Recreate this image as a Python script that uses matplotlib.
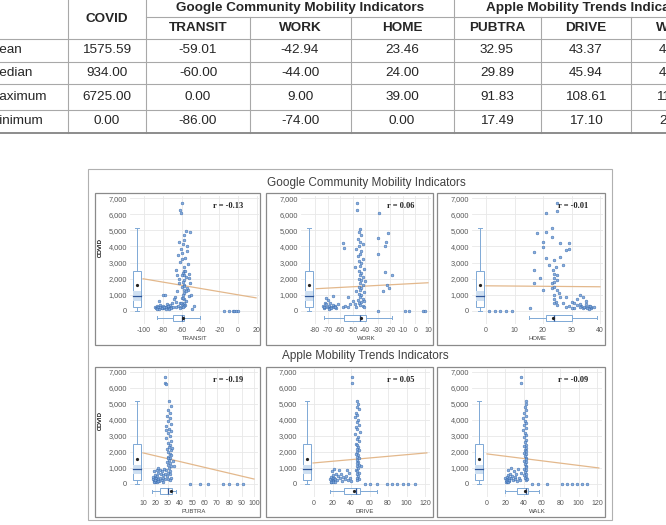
import matplotlib
matplotlib.use("Agg")
import matplotlib.pyplot as plt
from matplotlib.patches import Rectangle
from matplotlib.ticker import StrMethodFormatter

plt.rcParams['axes.unicode_minus'] = False

W, H = 666, 525

# ---------------- table data ----------------
row_names = ['Mean', 'Median', 'Maximum', 'Minimum']
col_names = ['COVID', 'TRANSIT', 'WORK', 'HOME', 'PUBTRA', 'DRIVE', 'WALK']
covid_stats = [1575.59, 934.00, 6725.00, 0.00]
transit_stats = [-59.01, -60.00, 0.00, -86.00]
work_stats = [-42.94, -44.00, 9.00, -74.00]
home_stats = [23.46, 24.00, 39.00, 0.00]
pubtra_stats = [32.95, 29.89, 91.83, 17.49]
drive_stats = [43.37, 45.94, 108.61, 17.10]
walk_stats = [41.93, 42.51, 117.30, 20.46]
group_names = ['Google Community Mobility Indicators', 'Apple Mobility Trends Indicators']

# ---------------- scatter data ----------------
transit_x = [-60, -62, -61, -55, -58, -57, -63, -59, -54, -61, -60, -64, -56, -60, -62, -53, -58, -66,
             -57, -59, -52, -58, -55, -63, -57, -59, -51, -58, -60, -54, -58, -65, -57, -59, -52, -60,
             -58, -55, -62, -57, -60, -56, -58, -61, -59, -62, -64, -53, -65, -54, -56, -60, -52, -63,
             -57, -55, -59, -61, -50, -66,
             -88, -87, -86, -85, -84, -83, -82, -81, -80, -79, -78, -77, -76, -75, -74, -73, -72, -71,
             -70, -84, -80, -78, -67, -66, -86, -83, -81, -79, -77, -75, -73, -71, -69, -68,
             -51, -49, -47, -15, -10, -6, -4, -2, 0]
transit_y = [6700, 6250, 6100, 4950, 4700, 4400, 4250, 4150, 4000, 3850, 3600, 3450, 3300, 3200, 3050,
             2900, 2700, 2550, 2450, 2350, 2300, 2200, 2100, 2000, 1900, 1800, 1700, 1600, 1500, 1400,
             1300, 1200, 1100, 1000, 900, 800, 700, 600, 500, 450, 400, 350, 300, 250, 200, 150, 300,
             1300, 2200, 3700, 2450, 2250, 2050, 1750, 1550, 1250, 800, 450, 950, 550,
             250, 150, 300, 200, 120, 350, 220, 180, 300, 150, 250, 200, 400, 180, 280, 150, 350, 250,
             450, 600, 950, 980, 870, 200, 100, 200, 150, 250, 120, 300, 100, 180, 220, 700,
             4900, 80, 300, 0, 0, 0, 0, 0, 0]

work_x = [-46.5, -46.5, -44, -45, -43, -46, -44, -42, -45, -47, -43, -44, -46, -42, -45, -43, -44, -41,
          -45, -43, -44, -42, -45, -43, -44, -42, -45, -43, -44, -41, -45, -43, -44, -42, -46, -43, -45,
          -44, -42, -47, -41, -48, -40, -47, -41, -48,
          -74, -73, -72, -72, -71, -70, -70, -69, -68, -68, -67, -66, -65, -64, -63, -62, -71, -66, -58,
          -56, -54, -54, -52, -50, -73, -69, -67, -64,
          -58, -57, -30, -23.5, -22, -29, -30, -24.5, -24, -19, -23, -26, -21, -30, -8, -5, 6, 8]
work_y = [6700, 6250, 5100, 4900, 4700, 4450, 4300, 4150, 4000, 3850, 3700, 3550, 3400, 3250, 3100,
          2950, 2800, 2600, 2450, 2350, 2250, 2100, 2000, 1900, 1750, 1600, 1500, 1400, 1300, 1150, 1050,
          950, 850, 750, 650, 550, 450, 350, 300, 250, 200, 2700, 1850, 1200, 600, 400,
          300, 150, 500, 250, 400, 200, 650, 300, 150, 450, 250, 350, 200, 300, 150, 400, 800, 900, 250,
          300, 200, 870, 400, 600, 200, 100, 150, 250,
          4200, 3900, 4500, 4300, 4850, 6100, 3500, 4000, 2400, 2200, 1600, 1200, 1400, 0, 0, 0, 0, 0]

home_x = [21, 25, 25, 18, 21, 23, 23, 26, 29, 20, 20, 17, 28, 29, 21, 24, 26, 27, 17, 19, 17, 20, 23.5,
          24, 23, 25, 24, 24.7, 24, 25, 26, 28, 30, 31, 33, 34, 32, 33.5, 35, 36, 37, 31, 27, 28, 15.5,
          23, 24, 25, 24, 22, 33, 34, 35, 36, 37, 38, 35, 32, 29, 30, 24.5, 25, 24, 25.5, 24,
          34.5, 35.5, 36.5, 33, 1, 3, 5, 7, 9]
home_y = [6060, 6690, 6210, 4860, 4920, 5130, 4610, 4200, 4200, 4300, 3990, 3680, 3780, 3840, 3260, 3160,
          3320, 2850, 2530, 2020, 1710, 1290, 2530, 2020, 1710, 1910, 980, 560, 460, 350, 870, 870, 560,
          460, 1000, 870, 350, 300, 200, 300, 150, 150, 460, 250, 150, 1400, 1500, 1300, 2300, 2850, 250,
          180, 400, 120, 250, 200, 600, 700, 300, 150, 2700, 2200, 1800, 1100, 700,
          250, 150, 300, 400, 0, 0, 0, 0, 0]

pubtra_x = [27.5, 27.5, 29, 31, 33, 30, 32, 29.5, 31.5, 30, 33, 29, 31, 32.5, 30, 31.5, 29, 33, 30.5, 32,
            31, 29.5, 32.5, 30, 31.5, 33, 30, 32, 31, 29.5, 32, 30.5, 33, 31, 29, 32, 30, 31.5, 29.5, 33,
            30, 32, 35, 28.5, 33.5, 30, 28, 34,
            18, 18.5, 19, 19.5, 20, 20, 20.5, 21, 21.5, 22, 22, 23, 23.5, 24, 24.5, 25, 25.5, 26, 26.5,
            27, 19, 21, 22.5, 26, 27.5, 19, 20, 21, 22,
            48, 56, 63, 75, 80, 86, 91]
pubtra_y = [6700, 6280, 6220, 5150, 4850, 4600, 4400, 4250, 4100, 3900, 3750, 3600, 3450, 3300, 3150,
            3000, 2850, 2700, 2550, 2400, 2300, 2200, 2100, 2000, 1900, 1800, 1700, 1600, 1500, 1400,
            1300, 1200, 1100, 1000, 900, 800, 700, 600, 500, 400, 300, 250, 1100, 3350, 2250, 1650, 600, 1450,
            300, 450, 200, 550, 350, 150, 400, 250, 500, 300, 700, 200, 900, 400, 600, 250, 800, 350,
            550, 950, 800, 900, 1000, 150, 300, 100, 250, 150, 200,
            0, 0, 0, 0, 0, 0, 0]

drive_x = [41, 41, 47, 48, 46, 49, 45, 47, 44, 48, 46, 49, 45, 47, 50, 44, 48, 46, 49, 45, 47, 48, 46,
           49, 47, 45, 48, 46, 49, 47, 48, 46, 49, 47, 48, 45, 47, 49, 46, 48, 47, 49, 46, 51,
           17, 18, 18.5, 19, 20, 20, 21, 22, 23, 24, 25, 26, 27, 28, 29, 30, 31, 19, 22, 33, 35, 37,
           38, 39, 36, 40, 18, 20, 21, 23,
           55, 61, 68, 79, 84, 90, 96, 102, 109]
drive_y = [6700, 6300, 5200, 5000, 4800, 4650, 4450, 4300, 4150, 4000, 3850, 3700, 3550, 3400, 3250,
           3100, 2950, 2800, 2650, 2500, 2400, 2300, 2200, 2100, 2000, 1900, 1800, 1700, 1600, 1500,
           1400, 1300, 1200, 1100, 1000, 900, 800, 700, 600, 500, 400, 300, 250, 1100,
           300, 150, 450, 250, 550, 350, 200, 400, 300, 650, 250, 500, 900, 350, 600, 200, 450, 800,
           950, 300, 500, 250, 700, 400, 900, 200, 100, 200, 100, 150,
           0, 0, 0, 0, 0, 0, 0, 0, 0]

walk_x = [37, 37, 43, 42, 41, 43, 40, 42, 39, 41, 43, 40, 42, 39, 41, 43, 40, 42, 41, 43, 40, 42, 41, 43,
          40, 42, 41, 43, 42, 40, 42, 41, 43, 42, 40, 42, 41, 43, 40, 42, 41, 43, 44,
          20, 21, 21.5, 22, 22.5, 23, 24, 24.5, 25, 26, 27, 28, 29, 30, 31, 32, 33, 34, 23, 26, 35, 36, 37,
          21, 22, 23, 24,
          49, 56, 65, 82, 87, 93, 98, 104, 109]
walk_y = [6700, 6300, 5200, 5000, 4800, 4600, 4400, 4250, 4100, 3950, 3800, 3650, 3500, 3350, 3200,
          3050, 2900, 2750, 2600, 2450, 2350, 2250, 2150, 2050, 1950, 1850, 1750, 1650, 1550, 1450, 1350,
          1250, 1150, 1050, 950, 850, 750, 650, 550, 450, 350, 250, 300,
          350, 250, 450, 150, 550, 300, 400, 200, 650, 350, 500, 250, 800, 450, 300, 600, 200, 950, 900,
          1000, 400, 250, 700, 150, 200, 100, 250,
          0, 0, 0, 0, 0, 0, 0, 0, 0]

# box-plot summaries (whisker low, q1, median, q3, whisker high, mean)
covid_box = [0, 250, 934, 2490, 5150, 1576]
covid_band = [600, 1200]
transit_box = [-86, -69, -60, -58, -41, -59]
work_box = [-73, -57, -44, -39, -19, -43]
home_box = [15, 21, 24, 30, 39, 23.5]
pubtra_box = [17.5, 23.8, 29.9, 33.6, 37, 33]
drive_box = [17.1, 32, 45.9, 50, 68, 43.4]
walk_box = [20, 33, 42, 45, 57, 41]

# trend line end points (x, y) at the left and right end
transit_trend = [(-101, 1990), (19, 800)]
work_trend = [(-79, 1370), (10, 1740)]
home_trend = [(0, 1550), (40, 1490)]
pubtra_trend = [(10, 1940), (100, 310)]
drive_trend = [(-1, 1310), (122, 1940)]
walk_trend = [(0, 1875), (122, 1000)]

r_values = ['-0.13', '0.06', '-0.01', '-0.19', '0.05', '-0.09']

covid_ticks = [0, 1000, 2000, 3000, 4000, 5000, 6000, 7000]

# ---------------- layout (pixels) ----------------
panels = [
    dict(name='TRANSIT', x=transit_x, y=transit_y, box=transit_box, trend=transit_trend,
         ticks=[-100, -80, -60, -40, -20, 0, 20], tpx=(144, 257), axpx=(130, 259), frame=(95, 260), vbox_px=137, row=0),
    dict(name='WORK', x=work_x, y=work_y, box=work_box, trend=work_trend,
         ticks=list(range(-80, 11, 10)), tpx=(315, 428), axpx=(301, 431), frame=(266, 433), vbox_px=309, row=0),
    dict(name='HOME', x=home_x, y=home_y, box=home_box, trend=home_trend,
         ticks=[0, 10, 20, 30, 40], tpx=(486, 600), axpx=(472, 603), frame=(437, 605), vbox_px=480, row=0),
    dict(name='PUBTRA', x=pubtra_x, y=pubtra_y, box=pubtra_box, trend=pubtra_trend,
         ticks=list(range(10, 101, 10)), tpx=(143, 254), axpx=(130, 258), frame=(95, 260), vbox_px=137, row=1),
    dict(name='DRIVE', x=drive_x, y=drive_y, box=drive_box, trend=drive_trend,
         ticks=[0, 20, 40, 60, 80, 100, 120], tpx=(314, 425), axpx=(300, 430), frame=(266, 433), vbox_px=307, row=1),
    dict(name='WALK', x=walk_x, y=walk_y, box=walk_box, trend=walk_trend,
         ticks=[0, 20, 40, 60, 80, 100, 120], tpx=(487, 597), axpx=(472, 602), frame=(437, 605), vbox_px=479, row=1),
]
# zero px, 7000 px, axes top/bottom, frame top/bottom, title
rows = [dict(p0=310.7, p7=198.3, top=196, bot=324, ftop=193, fbot=345, title_y=183, hbox_px=318),
        dict(p0=484.0, p7=371.7, top=369, bot=497, ftop=367, fbot=517, title_y=356, hbox_px=491)]

SANS = ['Liberation Sans', 'DejaVu Sans']
BOXC = '#7fa9d6'

fig = plt.figure(figsize=(W / 100, H / 100), dpi=100)
bg = fig.add_axes([0, 0, 1, 1])
bg.set_xlim(0, W)
bg.set_ylim(H, 0)
bg.axis('off')

# ---------------- table ----------------
vlines = [68, 146, 250, 351, 454, 541, 631]
full_v = [68, 146, 454]
lc = '#a8a8a8'
for xv in vlines:
    bg.plot([xv, xv], [0 if xv in full_v else 17, 133], color=lc, lw=0.8)
bg.plot([146, W], [17, 17], color=lc, lw=0.8)
for yh in [39, 62, 84, 110]:
    bg.plot([0, W], [yh, yh], color=lc, lw=0.8)
bg.plot([0, W], [133, 133], color='#8c8c8c', lw=1.4)

col_cx = [107, 198, 300, 402, 497, 586, 676]
fs_tab = 9.7
tc = '#262626'
bg.text(300, 8, group_names[0], ha='center', va='center', fontsize=fs_tab, fontweight='bold',
        family=SANS, color=tc)
bg.text(486, 8, group_names[1], ha='left', va='center', fontsize=fs_tab, fontweight='bold',
        family=SANS, color=tc)
bg.text(col_cx[0], 19, col_names[0], ha='center', va='center', fontsize=fs_tab, fontweight='bold',
        family=SANS, color=tc)
for cx, name in zip(col_cx[1:], col_names[1:]):
    bg.text(cx, 28, name, ha='center', va='center', fontsize=fs_tab, fontweight='bold',
            family=SANS, color=tc)
row_cy = [50, 73, 97, 121]
all_stats = [covid_stats, transit_stats, work_stats, home_stats, pubtra_stats, drive_stats, walk_stats]
for i, (cy, rn) in enumerate(zip(row_cy, row_names)):
    bg.text(-11, cy, rn, ha='left', va='center', fontsize=fs_tab, family=SANS, color=tc)
    for cx, st in zip(col_cx, all_stats):
        bg.text(cx, cy, f'{st[i]:.2f}', ha='center', va='center', fontsize=fs_tab,
                family=SANS, color=tc)

# ---------------- figure frames and titles ----------------
bg.add_patch(Rectangle((88, 169), 612 - 88, 520 - 169, fill=False, ec='#b0b0b0', lw=0.8))
bg.text(366, rows[0]['title_y'], group_names[0], ha='center', va='center', fontsize=8.5,
        family=SANS, color='#404040')
bg.text(365, rows[1]['title_y'], group_names[1], ha='center', va='center', fontsize=8.5,
        family=SANS, color='#404040')

for k, p in enumerate(panels):
    rw = rows[p['row']]
    fl, fr = p['frame']
    bg.add_patch(Rectangle((fl, rw['ftop']), fr - fl, rw['fbot'] - rw['ftop'], fill=False,
                           ec='#8a8a8a', lw=0.9))

    left, right = p['axpx']
    t0, t1 = p['ticks'][0], p['ticks'][-1]
    p_0, p_1 = p['tpx']
    sx = (p_1 - p_0) / (t1 - t0)
    xlim = (t0 + (left - p_0) / sx, t0 + (right - p_0) / sx)
    sy = (rw['p0'] - rw['p7']) / 7000
    ylim = ((rw['p0'] - rw['bot']) / sy, (rw['p0'] - rw['top']) / sy)

    ax = fig.add_axes([left / W, 1 - rw['bot'] / H, (right - left) / W, (rw['bot'] - rw['top']) / H])
    ax.set_facecolor('none')
    ax.set_xlim(*xlim)
    ax.set_ylim(*ylim)
    for s in ax.spines.values():
        s.set_visible(False)
    ax.set_xticks(p['ticks'])
    ax.set_yticks(covid_ticks)
    ax.yaxis.set_major_formatter(StrMethodFormatter('{x:,.0f}'))
    ax.tick_params(length=0, pad=2, labelcolor='#595959')
    ax.tick_params(axis='y', labelsize=5.3)
    ax.tick_params(axis='x', labelsize=5.0)
    for lab in ax.get_xticklabels() + ax.get_yticklabels():
        lab.set_family(SANS)
    ax.grid(True, color='#e8e8e8', lw=0.6)
    ax.set_axisbelow(True)
    ax.set_xlabel(p['name'], fontsize=4.3, family=SANS, color='#404040', labelpad=1.5)
    ax.set_ylabel('COVID', fontsize=4.3, family=SANS, color='#404040')
    ax.yaxis.set_label_coords((103 - left) / (right - left),
                              (rw['bot'] - (rw['p0'] - 63)) / (rw['bot'] - rw['top']))

    ax.scatter(p['x'], p['y'], s=4, facecolor='#7fa8dc', edgecolor='#2f62a8', linewidths=0.35,
               alpha=0.9, zorder=3)

    (xa, ya), (xb, yb) = p['trend']
    ax.plot([xa, xb], [ya, yb], color='#e3b88c', lw=0.9, zorder=2)

    vb = covid_box
    vstats = dict(whislo=vb[0], q1=vb[1], med=vb[2], q3=vb[3], whishi=vb[4], mean=vb[5])
    hb = p['box']
    hstats = dict(whislo=hb[0], q1=hb[1], med=hb[2], q3=hb[3], whishi=hb[4], mean=hb[5])
    vpos = xlim[0] + (p['vbox_px'] - left) / sx
    hpos = (rw['p0'] - rw['hbox_px']) / sy
    vw = 8 / sx
    common = dict(patch_artist=True, showmeans=True, showfliers=False,
                  boxprops=dict(facecolor='white', edgecolor=BOXC, lw=0.7),
                  whiskerprops=dict(color=BOXC, lw=0.7), capprops=dict(color=BOXC, lw=0.7),
                  medianprops=dict(color='#2f5597', lw=0.9),
                  meanprops=dict(marker='o', markersize=1.3, markerfacecolor='#222222',
                                 markeredgecolor='#222222'),
                  manage_ticks=False)
    ax.bxp([vstats], positions=[vpos], widths=[vw], orientation='vertical', **common)
    ax.add_patch(Rectangle((vpos - vw / 2, covid_band[0]), vw, covid_band[1] - covid_band[0],
                           facecolor='#cfe0f2', edgecolor='none', zorder=2.5))
    ax.plot([vpos - vw / 2, vpos + vw / 2], [vb[2], vb[2]], color='#2f5597', lw=0.9, zorder=2.6)
    ax.bxp([hstats], positions=[hpos], widths=[6 / sy], orientation='horizontal', **common)

    ax.text(fr - 32, rw['ftop'] + 13, f'r = {r_values[k]}', transform=bg.transData, ha='center',
            va='center', fontsize=6, fontweight='bold', family=['Liberation Serif', 'DejaVu Serif'],
            color='#222222', zorder=6)

fig.savefig('out.png', dpi=100)
